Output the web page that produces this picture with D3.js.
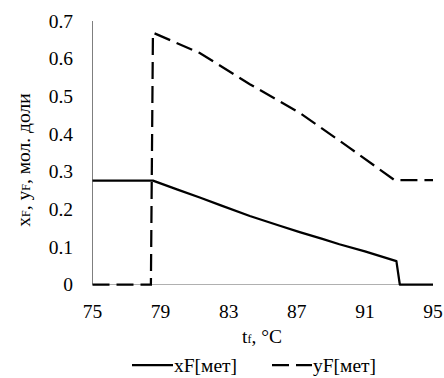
<!DOCTYPE html>
<html><head><meta charset="utf-8">
<script src="https://cdn.jsdelivr.net/npm/d3@7"></script>
<style>body{margin:0;background:#fff}svg{display:block}</style>
</head><body><svg id="c" width="444" height="378" font-family="Liberation Serif, Times New Roman, serif"></svg>
<script>
const xTicks = [75, 79, 83, 87, 91, 95];
const yTicks = [0, 0.1, 0.2, 0.3, 0.4, 0.5, 0.6, 0.7];
const xF_t = [75, 78.55, 80, 81.3, 82.5, 84.24, 86, 87.17, 88.5, 89.5, 91, 92.85, 93.05, 95];
const xF_v = [0.276, 0.276, 0.252, 0.231, 0.211, 0.182, 0.156, 0.139, 0.121, 0.107, 0.088, 0.062, 0, 0];
const yF_t = [75, 78.43, 78.55, 81.3, 84.24, 87.17, 90.1, 92.75, 95];
const yF_v = [0, 0, 0.669, 0.615, 0.532, 0.456, 0.363, 0.277, 0.277];
const legendLabels = ["xF[мет]", "yF[мет]"];

const svg = d3.select("#c");
const FF = "Liberation Serif";
const x = d3.scaleLinear().domain([75, 95]).range([92.5, 433]);
const y = d3.scaleLinear().domain([0, 0.7]).range([284.5, 21]);
const FS = 19.5;

// axes
svg.append("line").attr("x1", x(75)).attr("x2", x(95)).attr("y1", y(0)).attr("y2", y(0))
  .attr("stroke", "#b0b0b0").attr("stroke-width", 1.2);
svg.append("line").attr("x1", x(75)).attr("x2", x(75)).attr("y1", y(0)).attr("y2", y(0.7))
  .attr("stroke", "#7f7f7f").attr("stroke-width", 1);

svg.selectAll(".yt").data(yTicks).enter().append("text")
  .attr("x", 73).attr("y", d => y(d)).attr("dy", "0.35em").attr("font-family", FF)
  .attr("text-anchor", "end").attr("font-size", FS).text(d => d);
svg.selectAll(".xt").data(xTicks).enter().append("text")
  .attr("x", d => x(d)).attr("y", 311).attr("dy", "0.35em").attr("font-family", FF)
  .attr("text-anchor", "middle").attr("font-size", FS).text(d => d);

// titles
const yt = svg.append("text").attr("transform", "translate(30,160) rotate(-90)").attr("font-family", FF)
  .attr("text-anchor", "middle").attr("font-size", FS);
yt.append("tspan").text("x");
yt.append("tspan").attr("font-size", 12).text("F");
yt.append("tspan").text(", y");
yt.append("tspan").attr("font-size", 12).text("F");
yt.append("tspan").text(", мол. доли");

const xt = svg.append("text").attr("x", 262).attr("y", 343).attr("font-family", FF)
  .attr("text-anchor", "middle").attr("font-size", FS);
xt.append("tspan").text("t");
xt.append("tspan").attr("font-size", 12).text("f");
xt.append("tspan").text(", °C");

const line = d3.line().x(d => x(d[0])).y(d => y(d[1]));
svg.append("path").datum(d3.zip(xF_t, xF_v)).attr("d", line)
  .attr("fill", "none").attr("stroke", "#000").attr("stroke-width", 2.25).attr("stroke-linejoin", "round");
svg.append("path").datum(d3.zip(yF_t, yF_v)).attr("d", line)
  .attr("fill", "none").attr("stroke", "#000").attr("stroke-width", 2.25).attr("stroke-dasharray", "17,7");

// legend
const ly = 365;
svg.append("line").attr("x1", 132).attr("x2", 173).attr("y1", ly).attr("y2", ly)
  .attr("stroke", "#000").attr("stroke-width", 2.25);
svg.append("text").attr("x", 174).attr("y", ly).attr("dy", "0.35em").attr("font-family", FF).attr("font-size", FS).text(legendLabels[0]);
svg.append("line").attr("x1", 272).attr("x2", 312).attr("y1", ly).attr("y2", ly)
  .attr("stroke", "#000").attr("stroke-width", 2.25).attr("stroke-dasharray", "17,7");
svg.append("text").attr("x", 313).attr("y", ly).attr("dy", "0.35em").attr("font-family", FF).attr("font-size", FS).text(legendLabels[1]);
</script></body></html>
